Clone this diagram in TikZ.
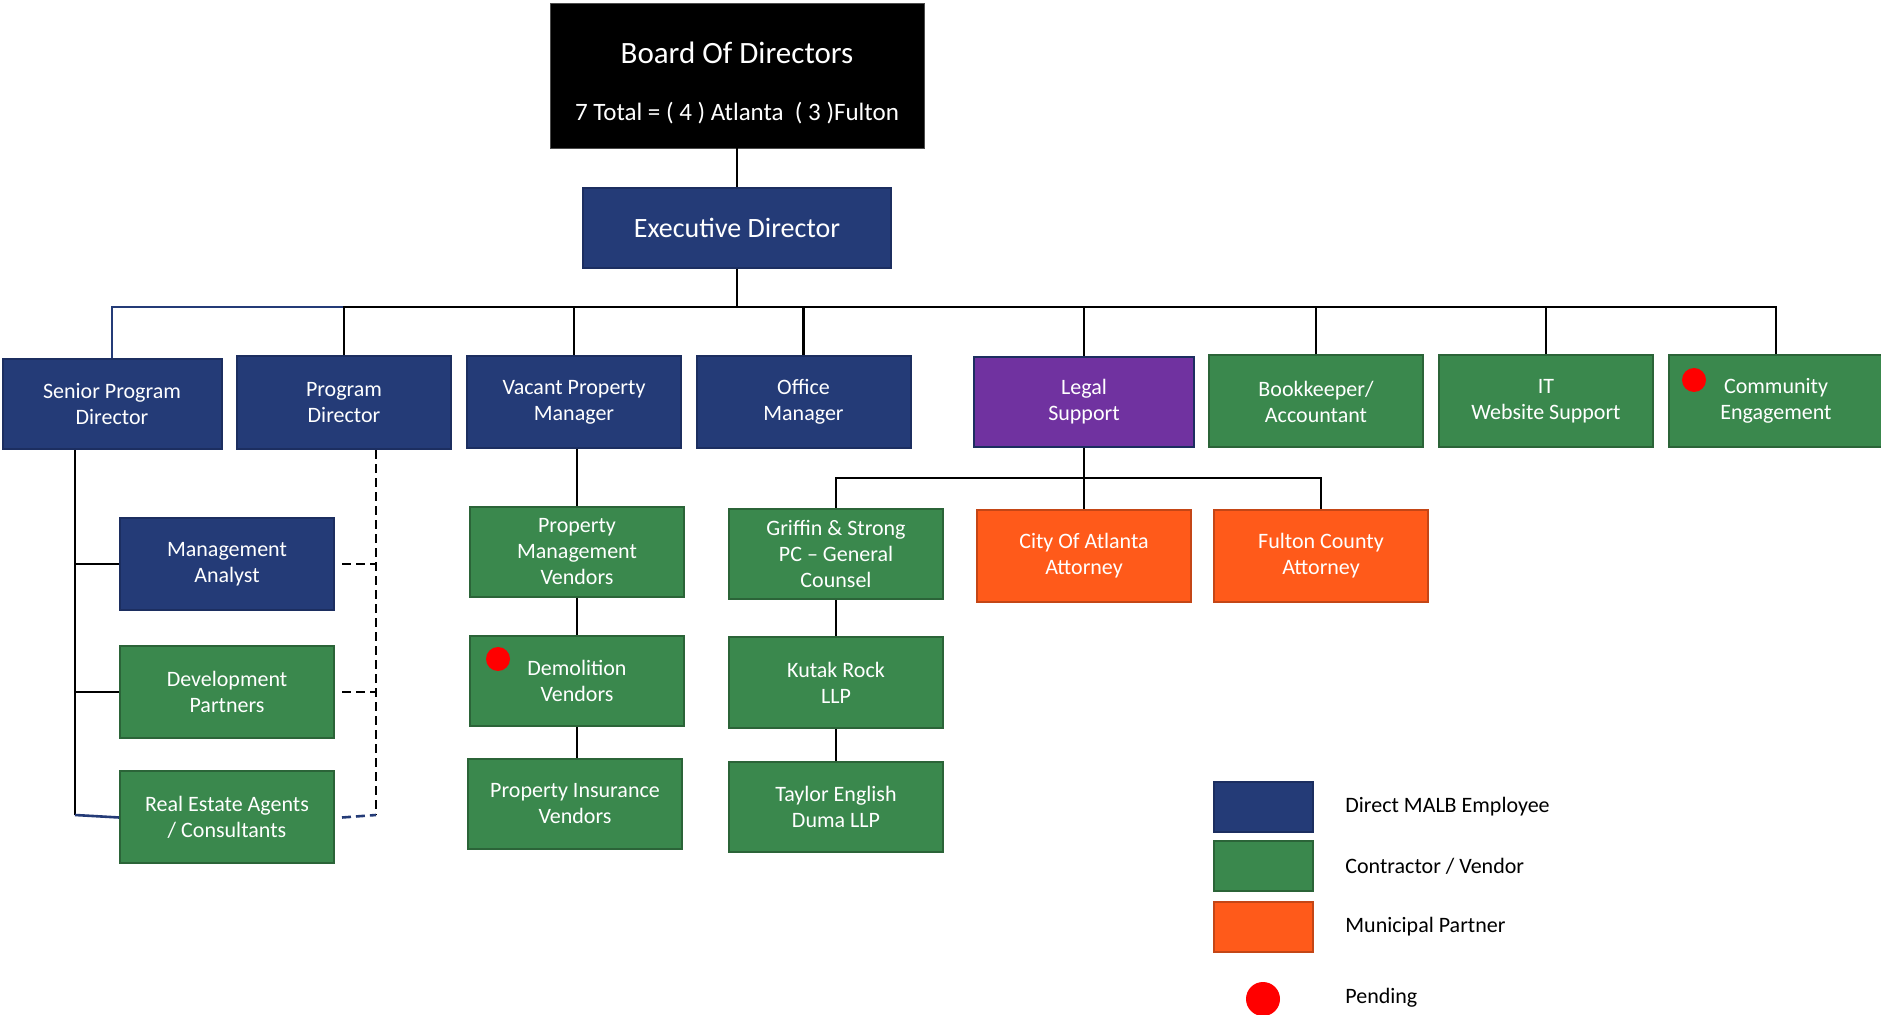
\documentclass[tikz,border=0pt]{standalone}
\usepackage{fontspec}
\setmainfont{Carlito}
\usetikzlibrary{calc, positioning}

\definecolor{staffblue}{RGB}{36,59,119}
\definecolor{staffedge}{RGB}{28,46,96}
\definecolor{vendorgreen}{RGB}{58,136,77}
\definecolor{vendoredge}{RGB}{43,100,56}
\definecolor{muniorange}{RGB}{255,90,26}
\definecolor{muniedge}{RGB}{196,70,22}
\definecolor{legalpurple}{RGB}{112,50,160}

\tikzset{
  unit/.style = {rectangle, draw, line width=1pt, text=white, align=center,
    inner sep=0pt, minimum width=107pt, minimum height=46pt,
    font=\fontsize{11}{13}\selectfont},
  staff/.style = {unit, fill=staffblue, draw=staffedge},
  vendor/.style = {unit, fill=vendorgreen, draw=vendoredge},
  municipal/.style = {unit, fill=muniorange, draw=muniedge},
  legalbox/.style = {unit, fill=legalpurple, draw=staffedge},
  pendingdot/.style = {circle, fill=red, inner sep=0pt, minimum size=12pt},
  keybox/.style = {rectangle, draw, line width=1pt, inner sep=0pt,
    minimum width=49.5pt, minimum height=25pt},
  keytext/.style = {anchor=west, inner sep=0pt, font=\fontsize{11}{13}\selectfont},
  link/.style = {line width=1.3pt, black},
  dotlink/.style = {link, dash pattern=on 4.5pt off 2.5pt},
}

\begin{document}
\begin{tikzpicture}[x=0.5pt, y=-0.5pt]
  \useasboundingbox (0,0) rectangle (1881,1015);

  % top of the chart
  \node[rectangle, fill=black, draw=black!70, text=white, align=center,
    minimum width=187pt, minimum height=72.5pt, inner sep=0pt] (board) at (737,75.5)
    {{\fontsize{15.5}{18}\selectfont\rule{0pt}{18pt}Board Of Directors}\\[16.5pt]
     {\fontsize{12.5}{15}\selectfont 7 Total = ( 4 ) Atlanta\ \ ( 3 )Fulton}};
  \node[staff, minimum width=154pt, minimum height=40pt,
    font=\fontsize{14}{16}\selectfont] (exec) at (737,228) {Executive Director};

  % first row
  \node[staff, minimum width=109.5pt, minimum height=45pt] (senior) at (112,404) {Senior Program\\Director};
  \node[staff, minimum height=46.5pt] (program) at (344,403) {Program\\Director};
  \node[staff] (vacant) at (574,402) {Vacant Property\\Manager};
  \node[staff] (office) at (803.5,402) {Office\\Manager};
  \node[legalbox, minimum width=110pt, minimum height=45pt] (legal) at (1084,402) {Legal\\Support};
  \node[vendor] (books) at (1316,401.5) {Bookkeeper/\\Accountant};
  \node[vendor] (itweb) at (1546,401) {IT\\Website Support};
  \node[vendor] (community) at (1776,401) {Community\\Engagement};
  \node[pendingdot] (commdot) at ([xshift=13pt, yshift=-13pt]community.north west) {};

  % under the program directors
  \node[staff] (analyst) at (227,564) {Management\\Analyst};
  \node[vendor] (devpart) at (227,692) {Development\\Partners};
  \node[vendor] (agents) at (227,817.5) {Real Estate Agents\\/ Consultants};

  % vendors
  \node[vendor, minimum height=45pt] (pmvend) at (577,552) {Property\\Management\\Vendors};
  \node[vendor, minimum height=45pt] (demo) at (577,681) {Demolition\\Vendors};
  \node[pendingdot] (demodot) at ([xshift=14.5pt, yshift=-12pt]demo.north west) {};
  \node[vendor, minimum height=45pt] (insur) at (575,804) {Property Insurance\\Vendors};

  % counsel
  \node[vendor, minimum height=45pt] (griffin) at (836,554) {Griffin \& Strong\\PC -- General\\Counsel};
  \node[vendor, minimum height=45.5pt] (kutak) at (836,682.5) {Kutak Rock\\LLP};
  \node[vendor, minimum height=45pt] (taylor) at (836,807) {Taylor English\\Duma LLP};
  \node[municipal] (cityatl) at (1084,556) {City Of Atlanta\\Attorney};
  \node[municipal] (fulton) at (1321,556) {Fulton County\\Attorney};

  % legend
  \node[keybox, fill=staffblue, draw=staffedge] (keystaff) at (1263.5,807) {};
  \node[keybox, fill=vendorgreen, draw=vendoredge] (keyvendor) at (1263.5,866) {};
  \node[keybox, fill=muniorange, draw=muniedge] (keymuni) at (1263.5,927) {};
  \node[pendingdot, minimum size=17pt] (keydot) at (1263,999) {};
  \node[keytext] at (1345,807) {Direct MALB Employee};
  \node[keytext] at (1345,866) {Contractor / Vendor};
  \node[keytext] at (1345,927) {Municipal Partner};
  \node[keytext] at (1345,998) {Pending};

  % connectors
  \coordinate (bus) at (737,307);
  \coordinate (senrail) at (75,815);
  \coordinate (prograil) at (376,815);
  \coordinate (legalbus) at (1084,478);

  \draw[link] (board) -- (exec);
  \draw[link] (exec.south) -- (bus);
  \draw[link, staffblue] (senior.north) |- (bus);
  \foreach \unit in {program, vacant, office, legal, books, itweb, community}
    \draw[link] (\unit.north) |- (bus);

  \draw[link] (senior.south -| senrail) -- (senrail);
  \draw[link] (analyst.west) -- (analyst.west -| senrail);
  \draw[link] (devpart.west) -- (devpart.west -| senrail);
  \draw[link, staffblue] (agents.west) -- (senrail);

  \draw[dotlink] (program.south -| prograil) -- (prograil);
  \draw[dotlink] ([xshift=3.5pt]analyst.east) -- (analyst.east -| prograil);
  \draw[dotlink] ([xshift=3.5pt]devpart.east) -- (devpart.east -| prograil);
  \draw[dotlink, staffblue] ([xshift=3.5pt]agents.east) -- (prograil);

  \draw[link] (vacant.south -| pmvend.north) -- (pmvend.north);
  \draw[link] (pmvend) -- (demo);
  \draw[link] (demo.south) -- (demo.south |- insur.north);

  \draw[link] (legal) -- (cityatl);
  \draw[link] (griffin.north) |- (legalbus) -| (fulton.north);
  \draw[link] (griffin) -- (kutak);
  \draw[link] (kutak) -- (taylor);
\end{tikzpicture}
\end{document}
